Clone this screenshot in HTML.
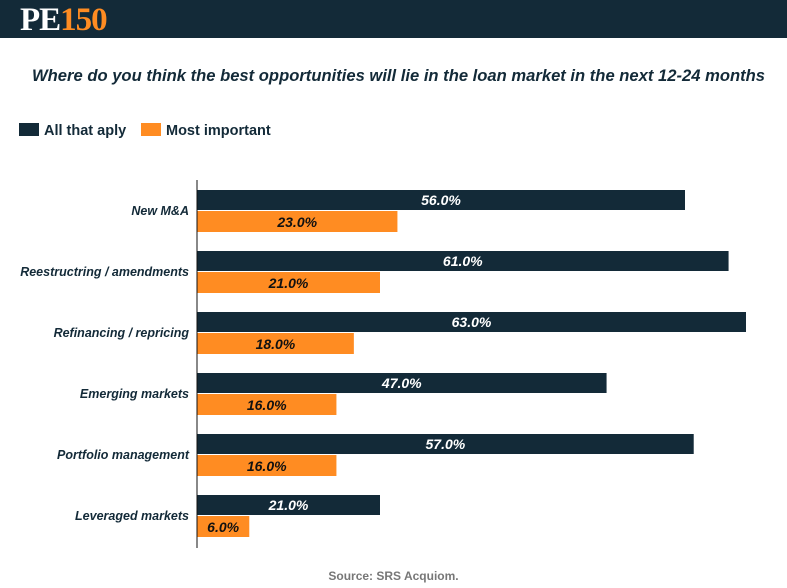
<!DOCTYPE html>
<html><head><meta charset="utf-8"><style>
body{margin:0;width:787px;height:588px;background:#fff;font-family:"Liberation Sans",sans-serif;overflow:hidden;position:relative}
.hdr{position:absolute;left:0;top:0;width:787px;height:38px;background:#132a38}
.logo{position:absolute;left:20px;top:2px;font-family:"Liberation Serif",serif;font-weight:bold;font-size:33px;letter-spacing:-1px}
.title{position:absolute;left:0;width:797px;top:66px;text-align:center;font-weight:bold;font-style:italic;font-size:16.6px;color:#132a38;white-space:nowrap}
.leg{position:absolute;top:123px;font-weight:bold;font-size:14.5px;color:#132a38}
.sw{display:inline-block;width:20px;height:13px;vertical-align:-1px;margin-right:5px}
.src{position:absolute;top:569px;left:0;width:787px;text-align:center;font-size:12px;font-weight:bold;color:#777}
</style></head><body>
<div class="hdr"><div class="logo"><span style="color:#fff">PE</span><span style="color:#ff8c22">150</span></div></div>
<div class="title">Where do you think the best opportunities will lie in the loan market in the next 12-24 months</div>
<div class="leg" style="left:19px"><span class="sw" style="background:#132a38"></span>All that aply</div>
<div class="leg" style="left:141px"><span class="sw" style="background:#ff8c22"></span>Most important</div>
<svg id="chart" width="787" height="588" style="position:absolute;left:0;top:0"></svg>
<div class="src">Source: SRS Acquiom.</div>
<script>
const categories=["New M&A","Reestructring / amendments","Refinancing / repricing","Emerging markets","Portfolio management","Leveraged markets"];
const allThatApply=[56,61,63,47,57,21];
const mostImportant=[23,21,18,16,16,6];
const svg=document.getElementById('chart');const NS='http://www.w3.org/2000/svg';
const x0=197,scale=549/63,top0=190,step=61,bh=21;
const xs=v=>v*scale;
function mk(t,a){const e=document.createElementNS(NS,t);for(const k in a)e.setAttribute(k,a[k]);svg.appendChild(e);return e;}
categories.forEach((c,i)=>{
 const y=top0+i*step;
 const b1=mk('rect',{x:x0,y:y,width:xs(allThatApply[i]),height:bh-1,fill:'#132a38'});
 
 
 const b2=mk('rect',{x:x0,y:y+bh,width:xs(mostImportant[i]),height:bh,fill:'#ff8c22'});
 
 
 const t1=mk('text',{x:x0+xs(allThatApply[i])/2,y:y+15,'text-anchor':'middle','font-size':14,'font-weight':'bold','font-style':'italic',fill:'#fff'});
 t1.textContent=allThatApply[i].toFixed(1)+'%';
 
 
 const t2=mk('text',{x:x0+xs(mostImportant[i])/2,y:y+bh+16,'text-anchor':'middle','font-size':14,'font-weight':'bold','font-style':'italic',fill:'#111'});
 t2.textContent=mostImportant[i].toFixed(1)+'%';
 
 
 const l=mk('text',{x:189,y:y+bh+4,'text-anchor':'end','font-size':12.5,'font-weight':'bold','font-style':'italic',fill:'#132a38'});
 l.textContent=c;
 
 
});
const ax=mk('line',{x1:x0,x2:x0,y1:180,y2:548,stroke:'#111','stroke-width':1});


</script>
</body></html>
